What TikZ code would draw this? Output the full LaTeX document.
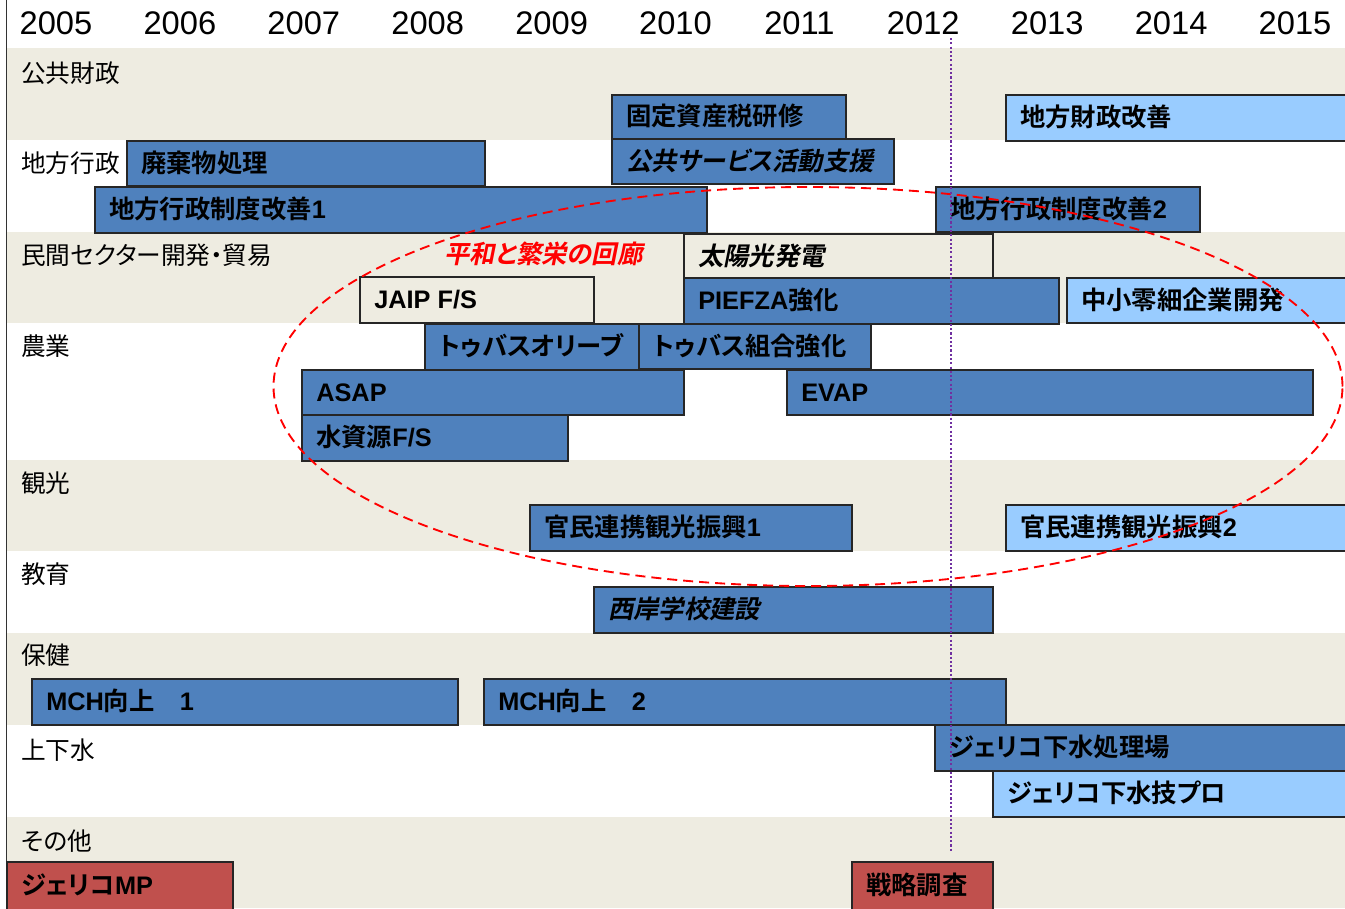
\documentclass[tikz,border=0pt]{standalone}
\usepackage{fontspec}
\setmainfont{Liberation Sans}
\newfontfamily\J{Noto Sans CJK JP}[RawFeature=+palt, BoldFont={Noto Sans CJK JP Bold}, ItalicFont={Noto Sans CJK JP}, ItalicFeatures={FakeSlant=0.2}, BoldItalicFont={Noto Sans CJK JP Bold}, BoldItalicFeatures={FakeSlant=0.2}]
\usetikzlibrary{shapes.geometric}
\definecolor{bg}{HTML}{EEECE1}
\definecolor{dblue}{HTML}{4F81BD}
\definecolor{lblue}{HTML}{99CCFF}
\definecolor{dred}{HTML}{C0504D}
\definecolor{vio}{HTML}{7030A0}
\newcommand\gbar[8]{%
  \node[#6, anchor=north west, minimum width={(#4-#2)*0.75pt}, minimum height={(#5-#3)*0.75pt}] (#1) at (#2,#3) {};
  \node[#7, anchor=west] (#1t) at ([xshift=10.5pt]#1.west) {#8};}
\tikzset{
  bar/.style={rectangle, draw=black!85, line width=0.9pt, fill=dblue, inner sep=0pt, outer sep=0pt},
  lbar/.style={bar, fill=lblue},
  rbar/.style={bar, fill=dred},
  bbar/.style={bar, fill=bg},
  lbl/.style={font=\fontsize{19}{19}\selectfont\bfseries, inner sep=0pt, text height=16.15pt, text depth=2.85pt},
  ilbl/.style={font=\fontsize{19}{19}\selectfont\bfseries\itshape, inner sep=0pt, text height=16.15pt, text depth=2.85pt},
  rowlbl/.style={font=\J\fontsize{18.5}{18.5}\selectfont, inner sep=0pt, anchor=west, text height=15.7pt, text depth=2.8pt},
  yr/.style={font=\fontsize{24.5}{24.5}\selectfont, inner sep=0pt, text height=17.5pt, text depth=0pt},
  vline/.style={draw=vio, line width=2pt, dash pattern=on 1.6pt off 1.6pt},
  corr/.style={ellipse, draw=red, line width=1.4pt, dash pattern=on 7.5pt off 4.5pt, inner sep=0pt, fill=none},
}
\begin{document}
\begin{tikzpicture}[x=0.75pt, y=-0.75pt]
\clip (0,0) rectangle (1345,908);
\fill[white] (0,0) rectangle (1345,908);
% bands
\fill[bg] (7,48) rectangle (1345,140);
\fill[bg] (7,232) rectangle (1345,323);
\fill[bg] (7,460) rectangle (1345,551);
\fill[bg] (7,633) rectangle (1345,725);
\fill[bg] (7,817) rectangle (1345,908);
\draw[line width=1.2pt, black!80] (6.3,0) -- (6.3,908);
% row labels
\node[rowlbl] (r1) at (21,74) {公共財政};
\node[rowlbl] (r2) at (21,164) {地方行政};
\node[rowlbl] (r3) at (21,255.5) {民間セクター開発・貿易};
\node[rowlbl] (r4) at (21,346.7) {農業};
\node[rowlbl] (r5) at (21,484) {観光};
\node[rowlbl] (r6) at (21,575) {教育};
\node[rowlbl] (r7) at (21,656) {保健};
\node[rowlbl] (r8) at (21,751) {上下水};
\node[rowlbl] (r9) at (21,842) {その他};
% bars
\gbar{b1}{612}{95}{846}{139}{bar}{lbl}{\J 固定資産税研修}
\gbar{b2}{612}{139}{894}{184}{bar}{ilbl}{\J 公共サービス活動支援}
\gbar{b3}{1006}{95}{1352}{141}{lbar}{lbl}{\J 地方財政改善}
\gbar{b4}{127}{141}{485}{186}{bar}{lbl}{\J 廃棄物処理}
\gbar{b5}{95}{187}{707}{233}{bar}{lbl}{{\J 地方行政制度改善}1}
\gbar{b6}{936}{187}{1200}{232}{bar}{lbl}{{\J 地方行政制度改善}2}
\gbar{b7}{684}{234}{993}{279}{bbar}{ilbl}{\J 太陽光発電}
\gbar{b8}{360}{277}{594}{323}{bbar}{lbl}{JAIP F/S}
\gbar{b9}{684}{278}{1059}{324}{bar}{lbl}{PIEFZA{\J 強化}}
\gbar{b10}{1067}{278}{1352}{323}{lbar}{lbl}{\J 中小零細企業開発}
\gbar{b11}{425}{324}{639}{370}{bar}{lbl}{\J トゥバスオリーブ}
\gbar{b12}{639}{324}{871}{369}{bar}{lbl}{\J トゥバス組合強化}
\gbar{b13}{302}{370}{684}{415}{bar}{lbl}{ASAP}
\gbar{b14}{787}{370}{1313}{415}{bar}{lbl}{EVAP}
\gbar{b15}{302}{415}{568}{461}{bar}{lbl}{{\J 水資源}F/S}
\gbar{b16}{530}{505}{852}{551}{bar}{lbl}{{\J 官民連携観光振興}1}
\gbar{b17}{1006}{505}{1352}{551}{lbar}{lbl}{{\J 官民連携観光振興}2}
\gbar{b18}{594}{587}{993}{633}{bar}{ilbl}{\J 西岸学校建設}
\gbar{b19}{32}{679}{458}{725}{bar}{lbl}{MCH{\J 向上　}1}
\gbar{b20}{484}{679}{1006}{725}{bar}{lbl}{MCH{\J 向上　}2}
\gbar{b21}{935}{725}{1352}{771}{bar}{lbl}{\J ジェリコ下水処理場}
\gbar{b22}{993}{771}{1352}{817}{lbar}{lbl}{\J ジェリコ下水技プロ}
\gbar{b23}{7}{862}{233}{910}{rbar}{lbl}{{\J ジェリコ}MP}
\gbar{b24}{852}{862}{993}{910}{rbar}{lbl}{\J 戦略調査}
% years
\foreach \i in {0,...,10}{
  \pgfmathtruncatemacro\yy{2005+\i}
  \node[yr] (yr\i) at ({56+123.9*\i},22.5) {\yy};
}
% corridor
\node[ilbl, text=red, anchor=west] (peace) at (444,255) {\J 平和と繁栄の回廊};
\node[corr, minimum width={1069*0.75pt}, minimum height={399*0.75pt}] (ell) at (808,386.5) {};
% 2012 marker
\coordinate (vt) at (951,38);
\coordinate (vb) at (951,852);
\draw[vline] (vt) -- (vb);
\end{tikzpicture}
\end{document}
